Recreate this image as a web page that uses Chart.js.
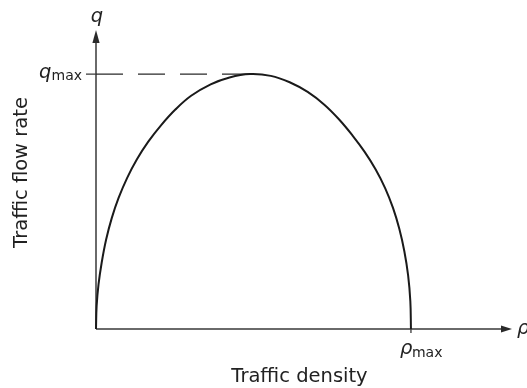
<!DOCTYPE html>
<html>
<head>
<meta charset="utf-8">
<script src="https://cdn.jsdelivr.net/npm/chart.js@4.4.1/dist/chart.umd.min.js"></script>
<style>
  html, body { margin: 0; padding: 0; background: #fff; }
  #wrap { width: 527px; height: 388px; }
</style>
</head>
<body>
<div id="wrap"><canvas id="flowChart" width="527" height="388"></canvas></div>
<script>
// density as a fraction of rho_max, flow as a fraction of q_max
var density = [0, 0.002, 0.008, 0.018, 0.032, 0.050, 0.072, 0.099, 0.130, 0.166, 0.207, 0.252, 0.302,
               0.364, 0.424, 0.489, 0.555, 0.615, 0.672, 0.725, 0.772, 0.814, 0.853, 0.888, 0.918,
               0.943, 0.963, 0.979, 0.991, 0.998, 1.0];
var flow    = [0, 0.090, 0.175, 0.260, 0.350, 0.435, 0.515, 0.593, 0.666, 0.735, 0.800, 0.861, 0.915,
               0.960, 0.987, 1.0, 0.993, 0.968, 0.930, 0.880, 0.822, 0.760, 0.695, 0.626, 0.553,
               0.475, 0.393, 0.305, 0.210, 0.110, 0];
// dashed guide at capacity, from the axis to the peak
var capacityX = [0, 0.489];
var capacityY = [1, 1];
var RHO_MAX = 1;
var Q_MAX = 1;

function toPoints(xs, ys) {
    return xs.map(function(x, i) { return { x: x, y: ys[i] }; });
}

var FONT = '"DejaVu Sans", "Liberation Sans", Arial, sans-serif';
var INK = '#222';

var axesPlugin = {
    id: 'flowAxes',
    beforeDatasetsDraw: function(chart) {
        var ctx = chart.ctx;
        var xs = chart.scales.x, ys = chart.scales.y;
        var area = chart.chartArea;
        var x0 = xs.getPixelForValue(0), y0 = ys.getPixelForValue(0);
        var xTip = area.right - 1, yTip = area.top;

        ctx.save();
        ctx.strokeStyle = '#3a3a3a';
        ctx.fillStyle = '#2a2a2a';
        ctx.lineWidth = 1.5;

        // axes
        ctx.beginPath();
        ctx.moveTo(x0, y0);
        ctx.lineTo(x0, yTip + 6);
        ctx.moveTo(x0, y0);
        ctx.lineTo(xTip - 6, y0);
        ctx.stroke();

        // arrow heads
        ctx.beginPath();
        ctx.moveTo(x0, yTip);
        ctx.lineTo(x0 - 3.6, yTip + 13);
        ctx.lineTo(x0 + 3.6, yTip + 13);
        ctx.closePath();
        ctx.fill();
        ctx.beginPath();
        ctx.moveTo(xTip, y0);
        ctx.lineTo(xTip - 11, y0 - 3.6);
        ctx.lineTo(xTip - 11, y0 + 3.6);
        ctx.closePath();
        ctx.fill();

        // small ticks at q_max and rho_max
        var yq = ys.getPixelForValue(Q_MAX);
        var xr = xs.getPixelForValue(RHO_MAX);
        ctx.lineWidth = 1.3;
        ctx.beginPath();
        ctx.moveTo(x0 - 10, yq);
        ctx.lineTo(x0, yq);
        ctx.moveTo(xr, y0);
        ctx.lineTo(xr, y0 + 4);
        ctx.stroke();
        ctx.restore();
    },
    afterDatasetsDraw: function(chart) {
        var ctx = chart.ctx;
        var xs = chart.scales.x, ys = chart.scales.y;
        var area = chart.chartArea;
        var x0 = xs.getPixelForValue(0), y0 = ys.getPixelForValue(0);
        var yq = ys.getPixelForValue(Q_MAX);
        var xr = xs.getPixelForValue(RHO_MAX);

        ctx.save();
        ctx.fillStyle = INK;
        ctx.textBaseline = 'alphabetic';

        // axis symbols
        ctx.font = 'italic 19.5px ' + FONT;
        ctx.textAlign = 'center';
        ctx.fillText('q', x0 + 1, 22);
        ctx.textAlign = 'left';
        ctx.fillText('\u03c1', area.right + 4, y0 + 5);

        // q_max
        ctx.font = '14px ' + FONT;
        ctx.textAlign = 'right';
        ctx.fillText('max', x0 - 14, yq + 6);
        var subW = ctx.measureText('max').width;
        ctx.font = 'italic 19.5px ' + FONT;
        ctx.fillText('q', x0 - 14 - subW, yq + 4);

        // rho_max
        ctx.textAlign = 'left';
        ctx.fillText('\u03c1', xr - 11, y0 + 25);
        ctx.font = '14px ' + FONT;
        ctx.fillText('max', xr + 1, y0 + 28);

        // axis titles
        ctx.font = '19.5px ' + FONT;
        ctx.textAlign = 'center';
        ctx.fillText('Traffic density', (x0 + area.right) / 2 - 5, 382);
        ctx.translate(27, 172.5);
        ctx.rotate(-Math.PI / 2);
        ctx.fillText('Traffic flow rate', 0, 0);
        ctx.restore();
    }
};

new Chart(document.getElementById('flowChart'), {
    type: 'scatter',
    data: {
        datasets: [{
            label: 'q(\u03c1)',
            data: toPoints(density, flow),
            showLine: true,
            borderColor: '#1a1a1a',
            borderWidth: 2,
            pointRadius: 0,
            tension: 0.4,
            fill: false,
            clip: false
        }, {
            label: 'q_max',
            data: toPoints(capacityX, capacityY),
            showLine: true,
            borderColor: '#2a2a2a',
            borderWidth: 1.4,
            borderDash: [27, 15],
            pointRadius: 0,
            clip: false
        }]
    },
    options: {
        responsive: false,
        animation: false,
        devicePixelRatio: 1,
        layout: { padding: { left: 96, right: 14, top: 30, bottom: 59 } },
        elements: { line: { capBezierPoints: false } },
        scales: {
            x: { type: 'linear', min: 0, max: 1.324, display: false },
            y: { type: 'linear', min: 0, max: 1.173, display: false }
        },
        plugins: {
            legend: { display: false },
            tooltip: { enabled: false }
        }
    },
    plugins: [axesPlugin]
});
</script>
</body>
</html>
